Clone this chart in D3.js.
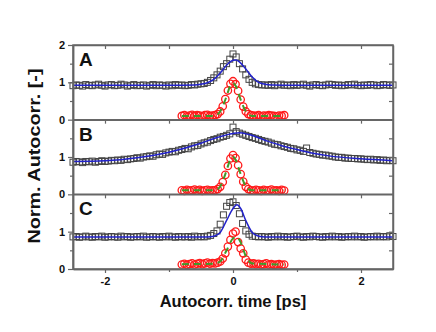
<!DOCTYPE html>
<html>
<head>
<meta charset="utf-8">
<script src="https://cdn.jsdelivr.net/npm/d3@7"></script>
<style>
body { margin: 0; background: #fff; }
text { font-family: "Liberation Sans", Arial, sans-serif; font-weight: bold; }
</style>
</head>
<body>
<div id="chart"></div>
<script>
// autocorrelation time grid (ps) for the measured square traces
var sqStart = -2.5, sqStep = 0.05;
// red circle traces
var ciStart = -0.8, ciStep = 0.04;

var panelNames = ["A", "B", "C"];
var xTickLabels = [-2, 0, 2];

var squaresA = [
  0.91,0.93,0.92,0.90,0.94,0.92,0.91,0.93,0.95,0.92,
  0.90,0.93,0.94,0.91,0.92,0.95,0.93,0.90,0.92,0.94,
  0.91,0.92,0.93,0.90,0.92,0.94,0.91,0.93,0.92,0.90,
  0.93,0.91,0.94,0.92,0.93,0.91,0.92,0.94,0.93,0.95,
  0.96,
  0.97,1.00,1.05,1.12,1.20,1.30,1.42,1.50,1.62,1.76,
  1.68,1.50,1.36,1.20,1.08,1.00,0.96,0.94,0.93,0.93,
  0.92,0.94,0.91,0.93,0.95,0.92,0.93,0.91,0.94,0.92,
  0.93,0.95,0.92,0.90,0.93,0.94,0.92,0.91,0.93,0.95,
  0.94,0.92,0.93,0.91,0.92,0.94,0.93,0.95,0.92,0.91,
  0.93,0.92,0.94,0.93,0.91,0.92,0.94,0.93,0.92,0.93
];
var squaresB = [
  0.86,0.88,0.87,0.85,0.88,0.87,0.89,0.86,0.88,0.90,0.88,
  0.89,0.91,0.90,0.92,0.91,0.94,0.93,0.95,0.96,0.98,
  0.97,1.00,1.01,1.03,1.02,1.06,1.08,1.07,1.11,1.13,
  1.15,1.14,1.18,1.20,1.23,1.22,1.27,1.30,1.31,1.35,
  1.38,1.40,1.44,1.47,1.49,1.53,1.55,1.58,1.62,1.80,
  1.68,1.64,1.61,1.58,1.55,1.52,1.50,1.47,1.44,1.42,
  1.40,1.37,1.34,1.33,1.30,1.28,1.26,1.23,1.22,1.19,
  1.18,1.15,1.24,1.12,1.10,1.08,1.07,1.05,1.05,1.03,
  1.02,1.00,0.99,0.99,0.97,0.97,0.96,0.96,0.95,0.95,
  0.94,0.93,0.94,0.92,0.93,0.91,0.92,0.90,0.91,0.90
];
var squaresC = [
  0.86,0.87,0.85,0.86,0.88,0.86,0.85,0.87,0.86,0.88,
  0.85,0.86,0.87,0.86,0.85,0.88,0.86,0.87,0.85,0.86,
  0.87,0.86,0.88,0.85,0.86,0.87,0.86,0.85,0.87,0.86,
  0.88,0.86,0.85,0.87,0.86,0.86,0.87,0.85,0.88,0.86,
  0.87,0.86,0.88,0.90,0.95,1.02,1.20,1.45,1.68,1.78,
  1.80,1.70,1.48,1.22,1.02,0.93,0.88,0.87,0.86,0.87,
  0.86,0.85,0.87,0.86,0.88,0.86,0.87,0.85,0.86,0.87,
  0.88,0.86,0.85,0.87,0.86,0.88,0.87,0.86,0.85,0.87,
  0.86,0.88,0.86,0.87,0.85,0.86,0.87,0.86,0.88,0.86,
  0.87,0.85,0.86,0.87,0.86,0.88,0.86,0.87,0.86,0.89,0.87
];

var circlesA = [
  0.10,0.12,0.09,0.11,0.13,0.10,0.12,0.11,0.09,0.12,0.13,0.10,0.11,
  0.12,0.15,0.22,0.36,0.55,0.78,0.96,1.03,0.95,0.77,0.54,0.35,0.22,0.15,0.12,
  0.11,0.10,0.12,0.09,0.11,0.10,0.12,0.11,0.10,0.09,0.11,0.10,0.12
];
var circlesB = [
  0.11,0.09,0.12,0.10,0.11,0.13,0.10,0.12,0.09,0.11,0.12,0.10,0.11,
  0.11,0.14,0.20,0.33,0.52,0.76,0.96,1.05,0.97,0.78,0.54,0.34,0.20,0.14,0.11,
  0.10,0.12,0.11,0.09,0.12,0.10,0.11,0.13,0.10,0.11,0.09,0.12,0.10
];
var circlesC = [
  0.12,0.14,0.11,0.13,0.15,0.12,0.14,0.16,0.13,0.15,0.17,0.14,0.16,
  0.15,0.17,0.20,0.28,0.42,0.60,0.78,0.95,1.00,0.72,0.55,0.42,0.25,0.17,0.14,
  0.15,0.13,0.14,0.12,0.13,0.15,0.12,0.13,0.11,0.12,0.13,0.11,0.12
];

// fitted curves as [time, value]
var blueFitA = [[-2.5,0.92],[-1.0,0.92],[-0.6,0.93],[-0.5,0.95],[-0.4,0.99],[-0.3,1.08],[-0.2,1.25],[-0.1,1.46],[0,1.59],[0.05,1.6],[0.1,1.55],[0.2,1.36],[0.3,1.14],[0.4,1.0],[0.5,0.95],[0.6,0.93],[1.0,0.92],[2.5,0.92]];
var blueFitB = [[-2.5,0.88],[-2.0,0.9],[-1.5,0.98],[-1.0,1.13],[-0.5,1.37],[-0.25,1.52],[0,1.63],[0.1,1.65],[0.25,1.6],[0.5,1.45],[0.75,1.31],[1.0,1.2],[1.25,1.1],[1.5,1.03],[2.0,0.95],[2.5,0.9]];
var blueFitC = [[-2.5,0.86],[-0.4,0.86],[-0.3,0.88],[-0.2,0.98],[-0.1,1.3],[0,1.62],[0.06,1.72],[0.12,1.62],[0.2,1.3],[0.3,0.98],[0.4,0.88],[0.5,0.86],[2.5,0.86]];
var greenFitA = [[-0.8,0.1],[-0.3,0.1],[-0.25,0.13],[-0.2,0.22],[-0.15,0.4],[-0.1,0.63],[-0.05,0.88],[0,0.98],[0.05,0.88],[0.1,0.63],[0.15,0.4],[0.2,0.22],[0.25,0.13],[0.3,0.1],[0.8,0.1]];
var greenFitB = [[-0.8,0.11],[-0.3,0.11],[-0.25,0.13],[-0.2,0.21],[-0.15,0.4],[-0.1,0.64],[-0.05,0.9],[0,1.0],[0.05,0.9],[0.1,0.64],[0.15,0.4],[0.2,0.21],[0.25,0.13],[0.3,0.11],[0.8,0.11]];
var greenFitC = [[-0.8,0.13],[-0.3,0.14],[-0.2,0.2],[-0.1,0.5],[0,0.82],[0.05,0.86],[0.1,0.78],[0.2,0.35],[0.3,0.15],[0.8,0.12]];

var squares = [squaresA, squaresB, squaresC];
var circles = [circlesA, circlesB, circlesC];
var blueFits = [blueFitA, blueFitB, blueFitC];
var greenFits = [greenFitA, greenFitB, greenFitC];

var width = 436, height = 332;
var plotLeft = 73, plotRight = 393, plotTop = 45, plotBottom = 269;
var panelH = (plotBottom - plotTop) / 3;
var axisColor = "#666";
var plain = function (d) { return String(d); };

var svg = d3.select("#chart").append("svg")
    .attr("width", width)
    .attr("height", height);

var x = d3.scaleLinear().domain([-2.5, 2.5]).range([plotLeft, plotRight]);

panelNames.forEach(function (name, p) {
    var y0 = plotTop + p * panelH;
    var y = d3.scaleLinear().domain([0, 2]).range([y0 + panelH, y0]);
    var g = svg.append("g");

    var sqData = squares[p].map(function (v, i) { return [sqStart + i * sqStep, v]; });
    var ciData = circles[p].map(function (v, i) { return [ciStart + i * ciStep, v]; });

    // measured squares (open)
    g.selectAll("rect.sq")
        .data(sqData)
        .enter().append("rect")
        .attr("x", function (d) { return x(d[0]) - 3; })
        .attr("y", function (d) { return y(d[1]) - 3; })
        .attr("width", 6)
        .attr("height", 6)
        .attr("fill", "none")
        .attr("stroke", "#444")
        .attr("stroke-width", 1);

    g.append("path")
        .datum(blueFits[p])
        .attr("fill", "none")
        .attr("stroke", "#2222cc")
        .attr("stroke-width", 1.5)
        .attr("d", d3.line().curve(d3.curveMonotoneX)
            .x(function (d) { return x(d[0]); })
            .y(function (d) { return y(d[1]); }));

    // red circles (open)
    g.selectAll("circle")
        .data(ciData)
        .enter().append("circle")
        .attr("cx", function (d) { return x(d[0]); })
        .attr("cy", function (d) { return y(d[1]); })
        .attr("r", 3.7)
        .attr("fill", "none")
        .attr("stroke", "#ff1a1a")
        .attr("stroke-width", 1.3);

    g.append("path")
        .datum(greenFits[p])
        .attr("fill", "none")
        .attr("stroke", "#3f9a2a")
        .attr("stroke-width", 2)
        .attr("stroke-dasharray", "7,5")
        .attr("d", d3.line().curve(d3.curveMonotoneX)
            .x(function (d) { return x(d[0]); })
            .y(function (d) { return y(d[1]); }));

    // axes
    var leftAx = g.append("g")
        .attr("transform", "translate(" + plotLeft + ",0)")
        .call(d3.axisLeft(y).tickValues(p === 0 ? [0, 1, 2] : [0, 1]).tickFormat(plain)
            .tickSize(5).tickSizeOuter(0).tickPadding(3));
    g.append("g")
        .attr("transform", "translate(" + plotLeft + ",0)")
        .call(d3.axisLeft(y).tickValues([0.5, 1.5]).tickSize(3).tickFormat("").tickSizeOuter(0));
    g.append("g")
        .attr("transform", "translate(" + plotRight + ",0)")
        .call(d3.axisLeft(y).tickValues([0.5, 1, 1.5]).tickSize(4).tickFormat("").tickSizeOuter(0));
    g.append("g")
        .attr("transform", "translate(0," + y0 + ")")
        .call(d3.axisBottom(x).tickValues([-2, -1, 0, 1, 2]).tickSize(4).tickFormat("").tickSizeOuter(0));

    leftAx.selectAll("text")
        .attr("font-size", "11px")
        .attr("font-family", "Liberation Sans, Arial, sans-serif")
        .attr("font-weight", "bold")
        .attr("fill", "#111");

    g.append("text")
        .attr("x", 79)
        .attr("y", y0 + 21)
        .attr("font-size", "19px")
        .attr("fill", "#111")
        .text(name);
});

// bottom axis
var xAx = svg.append("g")
    .attr("transform", "translate(0," + plotBottom + ")")
    .call(d3.axisBottom(x).tickValues(xTickLabels).tickFormat(plain)
        .tickSize(4).tickSizeOuter(0).tickPadding(4));
svg.append("g")
    .attr("transform", "translate(0," + plotBottom + ")")
    .call(d3.axisBottom(x).tickValues([-1, 1]).tickSize(3).tickFormat("").tickSizeOuter(0));
xAx.selectAll("text")
    .attr("font-size", "11px")
    .attr("font-family", "Liberation Sans, Arial, sans-serif")
    .attr("font-weight", "bold")
    .attr("fill", "#111");

// frame
svg.append("rect")
    .attr("x", plotLeft).attr("y", plotTop)
    .attr("width", plotRight - plotLeft).attr("height", plotBottom - plotTop)
    .attr("fill", "none")
    .attr("stroke", axisColor)
    .attr("stroke-width", 1.5);
[1, 2].forEach(function (k) {
    svg.append("line")
        .attr("x1", plotLeft).attr("x2", plotRight)
        .attr("y1", plotTop + k * panelH).attr("y2", plotTop + k * panelH)
        .attr("stroke", axisColor)
        .attr("stroke-width", 1.5);
});
svg.selectAll(".domain").attr("stroke", axisColor).attr("stroke-width", 1.5);
svg.selectAll(".tick line").attr("stroke", axisColor).attr("stroke-width", 1.2);

// axis titles
svg.append("text")
    .attr("x", (plotLeft + plotRight) / 2)
    .attr("y", 307)
    .attr("text-anchor", "middle")
    .attr("font-size", "16.5px")
    .attr("fill", "#111")
    .text("Autocorr. time [ps]");

svg.append("text")
    .attr("transform", "translate(40,156) rotate(-90)")
    .attr("text-anchor", "middle")
    .attr("font-size", "16.5px")
    .attr("textLength", 175)
    .attr("lengthAdjust", "spacingAndGlyphs")
    .attr("fill", "#111")
    .text("Norm. Autocorr. [-]");
</script>
</body>
</html>
